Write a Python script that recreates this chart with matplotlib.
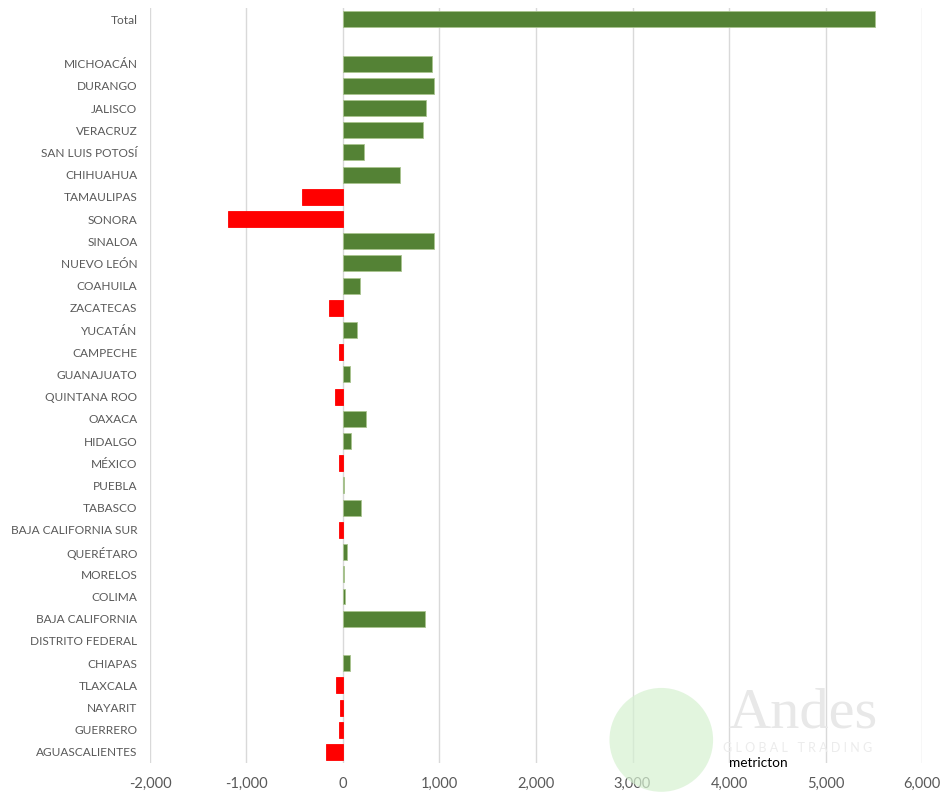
import numpy as np
import matplotlib
matplotlib.use("Agg")
from matplotlib import pyplot as plt
from matplotlib.patches import Ellipse

states = ["Total", "",
          "MICHOACÁN", "DURANGO", "JALISCO", "VERACRUZ", "SAN LUIS POTOSÍ",
          "CHIHUAHUA", "TAMAULIPAS", "SONORA", "SINALOA", "NUEVO LEÓN",
          "COAHUILA", "ZACATECAS", "YUCATÁN", "CAMPECHE", "GUANAJUATO",
          "QUINTANA ROO", "OAXACA", "HIDALGO", "MÉXICO", "PUEBLA", "TABASCO",
          "BAJA CALIFORNIA SUR", "QUERÉTARO", "MORELOS", "COLIMA",
          "BAJA CALIFORNIA", "DISTRITO FEDERAL", "CHIAPAS", "TLAXCALA",
          "NAYARIT", "GUERRERO", "AGUASCALIENTES"]

# change in metric tons, blank row keeps a gap under the total
values = [5510, 0,
          919, 946, 863, 832, 214,
          591, -425, -1192, 946, 601,
          176, -145, 145, -41, 69,
          -83, 238, 83, -41, 15, 187,
          -41, 38, 15, 25,
          853, 0, 72, -73,
          -31, -41, -176]

xticks = [-2000, -1000, 0, 1000, 2000, 3000, 4000, 5000, 6000]

GREEN = "#548235"
RED = "#ff0000"

plt.rcParams["font.family"] = ["Lato", "DejaVu Sans"]

fig = plt.figure(figsize=(9.42, 7.93), dpi=100)
ax = fig.add_axes([0.1592, 0.0378, 0.8196, 0.952])

y = np.arange(len(states))
vals = np.array(values, dtype=float)
colors = [GREEN if v >= 0 else RED for v in vals]
edges = ["#a9c48f" if v >= 0 else RED for v in vals]
widths = [0.6 if v != 0 else 0 for v in vals]
ax.barh(y, vals, height=0.72, color=colors, edgecolor=edges, linewidth=widths, zorder=3)

ax.set_ylim(len(states) - 0.5, -0.5)
ax.set_xlim(-2000, 6000)
ax.set_yticks(y)
ax.set_yticklabels(states)
ax.set_xticks(xticks)
ax.set_xticklabels(["{:,}".format(t) for t in xticks])
ax.tick_params(axis="y", length=0, labelsize=8.6, colors="#595959", pad=9)
ax.tick_params(axis="x", length=0, labelsize=10.5, colors="#595959", pad=10)
ax.grid(axis="x", color="#d9d9d9", linewidth=1.0, zorder=0)
for s in ax.spines.values():
    s.set_visible(False)

# faint logo in the lower right corner
fig.patches.append(Ellipse((0.702, 0.067), 0.110, 0.131, transform=fig.transFigure,
                           facecolor="#d6f1d1", edgecolor="none", alpha=0.7, zorder=1))
fig.text(0.773, 0.082, "Andes", fontsize=42, family="Liberation Serif",
         color="#e8e8e8", va="baseline", zorder=1)
fig.text(0.7675, 0.0492, "G L O B A L   T R A D I N G", fontsize=9,
         color="#ececec", va="bottom", zorder=1)

fig.text(0.774, 0.0378, "metricton", fontsize=9.8, color="black", va="center", zorder=4)

fig.savefig("out.png", dpi=100)
